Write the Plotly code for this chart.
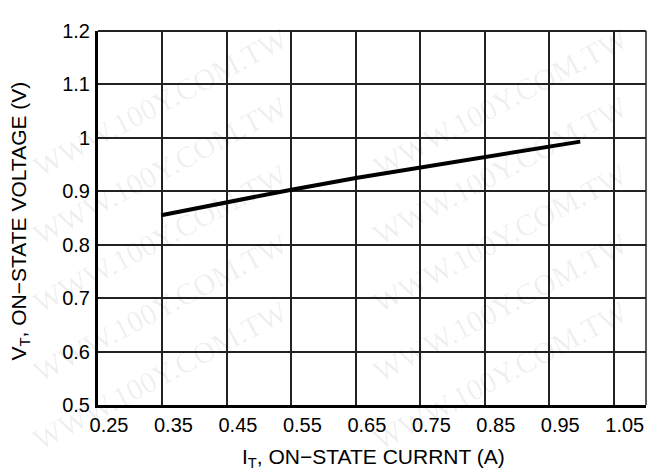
import plotly.graph_objects as go

# Data
current_a = [0.348, 0.45, 0.55, 0.65, 0.75, 0.85, 0.95, 0.998]
voltage_v = [0.855, 0.880, 0.903, 0.925, 0.945, 0.965, 0.985, 0.993]

x_ticks = [0.25, 0.35, 0.45, 0.55, 0.65, 0.75, 0.85, 0.95, 1.05]
x_tick_labels = ["0.25", "0.35", "0.45", "0.55", "0.65", "0.75", "0.85", "0.95", "1.05"]
y_ticks = [0.5, 0.6, 0.7, 0.8, 0.9, 1.0, 1.1, 1.2]
y_tick_labels = ["0.5", "0.6", "0.7", "0.8", "0.9", "1", "1.1", "1.2"]

x_title = "I<sub>T</sub>, ON\u2212STATE CURRNT (A)"
y_title = "V<sub>T</sub>, ON\u2212STATE VOLTAGE (V)"
watermark = "WWW.100Y.COM.TW"

# page has an 8px body margin, so the figure is 8px smaller than the window
OFF = 8
W, H = 650, 465
L, R, T, B = 90, 12, 14, 68
PW, PH = W - L - R, H - T - B

FONT = "Liberation Sans, Arial, Helvetica, sans-serif"


def px_to_paper(px, py):
    """page pixel -> paper coords"""
    return (px - OFF - L) / PW, 1 - (py - OFF - T) / PH


fig = go.Figure()
fig.add_trace(go.Scatter(
    x=current_a, y=voltage_v, mode="lines",
    line=dict(color="black", width=4), showlegend=False,
))

annotations = []
for py in (95, 165, 235, 305, 375):
    for cx in (160, 500):
        xx, yy = px_to_paper(cx, py)
        annotations.append(dict(
            text=watermark, xref="paper", yref="paper", x=xx, y=yy,
            xanchor="center", yanchor="middle",
            showarrow=False, textangle=-28,
            font=dict(family="Liberation Serif, Times New Roman, serif", size=30,
                      color="rgba(0,0,0,0.07)"),
        ))

xx, yy = px_to_paper(373, 459)
annotations.append(dict(
    text=x_title, xref="paper", yref="paper", x=xx, y=yy,
    xanchor="center", yanchor="middle", showarrow=False,
    font=dict(family=FONT, size=21, color="black"),
))
xx, yy = px_to_paper(20, 217)
annotations.append(dict(
    text=y_title, xref="paper", yref="paper", x=xx, y=yy,
    xanchor="center", yanchor="middle", showarrow=False, textangle=-90,
    font=dict(family=FONT, size=21, color="black"),
))

fig.update_layout(
    width=W, height=H,
    margin=dict(l=L, r=R, t=T, b=B, pad=0),
    paper_bgcolor="white", plot_bgcolor="white",
    font=dict(family=FONT, size=20, color="black"),
    annotations=annotations,
    shapes=[
        dict(type="line", xref="paper", yref="paper", x0=1, x1=1, y0=0, y1=1,
             line=dict(color="#222", width=1.5), layer="below"),
        dict(type="line", xref="paper", yref="paper", x0=0, x1=1, y0=1, y1=1,
             line=dict(color="#222", width=2), layer="below"),
    ],
)
fig.update_xaxes(
    range=[0.25, 1.10], tickvals=x_ticks, ticktext=x_tick_labels,
    showgrid=True, gridcolor="#222", gridwidth=1.5,
    showline=True, linecolor="black", linewidth=3,
    ticks="outside", ticklen=0, tickcolor="rgba(0,0,0,0)",
    ticklabelshift=11, zeroline=False,
    tickfont=dict(family=FONT, size=20, color="black"),
)
fig.update_yaxes(
    range=[0.5, 1.2], tickvals=y_ticks, ticktext=y_tick_labels,
    showgrid=True, gridcolor="#222", gridwidth=1.5,
    showline=True, linecolor="black", linewidth=3,
    ticks="outside", ticklen=1, tickcolor="rgba(0,0,0,0)",
    zeroline=False,
    tickfont=dict(family=FONT, size=20, color="black"),
)

fig.write_html("out.html")
